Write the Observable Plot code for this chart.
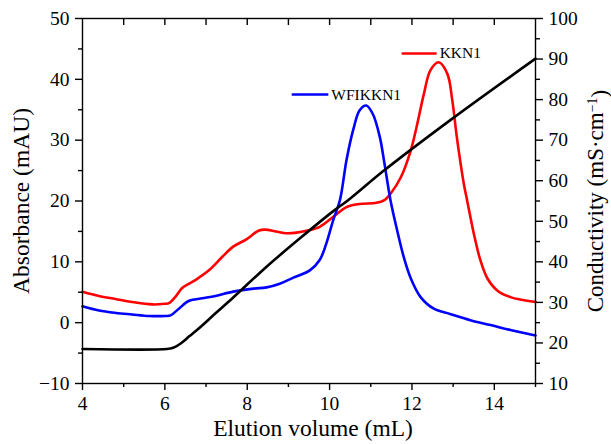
<!DOCTYPE html>
<html>
<head>
<meta charset="utf-8">
<script src="https://cdn.jsdelivr.net/npm/d3@7"></script>
<script src="https://cdn.jsdelivr.net/npm/@observablehq/plot@0.6"></script>
<style>
  html, body { margin: 0; padding: 0; background: #fff; }
  #chart svg { display: block; }
  #chart svg, #chart svg text, #chart svg tspan { font-family: "Liberation Serif", "Times New Roman", serif !important; }
</style>
</head>
<body>
<div id="chart"></div>
<script>
// ---- data ----
const kknVol = [4.0, 4.4, 4.8, 5.2, 5.7, 6.0, 6.1, 6.25, 6.42, 6.59, 6.74, 7.07, 7.39, 7.66, 7.98, 8.27, 8.43, 8.7, 8.95, 9.2, 9.44, 9.76, 10.09, 10.41, 10.73, 11.14, 11.32, 11.48, 11.73, 11.97, 12.13, 12.29, 12.45, 12.65, 12.86, 12.98, 13.09, 13.26, 13.34, 13.5, 13.66, 13.83, 14.07, 14.39, 15.0];
const kknAbs = [5.1, 4.4, 3.9, 3.4, 3.0, 3.1, 3.2, 4.2, 5.7, 6.4, 7.0, 8.6, 10.8, 12.5, 13.7, 15.1, 15.3, 15.0, 14.7, 14.8, 15.1, 15.75, 17.4, 19.0, 19.5, 19.7, 20.1, 21.2, 23.9, 28.3, 32.7, 37.6, 41.5, 42.8, 40.9, 36.5, 30.5, 22.8, 20.1, 14.7, 10.3, 7.3, 5.3, 4.2, 3.4];

const wfVol = [4.0, 4.4, 4.81, 5.2, 5.62, 6.0, 6.14, 6.34, 6.59, 6.91, 7.23, 7.66, 8.15, 8.47, 8.79, 9.12, 9.52, 9.76, 9.92, 10.09, 10.25, 10.41, 10.57, 10.73, 10.89, 11.05, 11.22, 11.32, 11.48, 11.64, 11.8, 11.97, 12.21, 12.53, 12.94, 13.42, 13.91, 14.39, 15.0];
const wfAbs = [2.7, 2.0, 1.6, 1.35, 1.1, 1.1, 1.2, 2.3, 3.6, 4.0, 4.4, 5.1, 5.6, 5.8, 6.4, 7.4, 8.6, 10.3, 13.0, 16.9, 20.1, 26.7, 31.6, 34.9, 35.7, 34.3, 30.5, 26.7, 20.1, 15.2, 10.8, 7.3, 4.2, 2.3, 1.4, 0.4, -0.4, -1.2, -2.1];

const condVol = [4.0, 6.05, 6.2, 6.4, 6.6, 6.83, 7.23, 7.66, 8.47, 9.28, 10.09, 10.45, 11.32, 12.94, 15.0];
const condVal = [18.5, 18.5, 18.8, 20.0, 21.7, 23.6, 27.3, 31.2, 38.8, 45.8, 52.5, 55.2, 62.5, 75.0, 90.1];

const xTicksMajor = [4, 6, 8, 10, 12, 14];
const xTicksMinor = [5, 7, 9, 11, 13, 15];
const xTicksTop = [5, 6, 7, 8, 9, 10, 11, 12, 13, 14];
const absTicksMajor = [-10, 0, 10, 20, 30, 40, 50];
const absTicksMinor = [-5, 5, 15, 25, 35, 45];
const condTicksMajor = [10, 20, 30, 40, 50, 60, 70, 80, 90, 100];
const condTicksMinor = [15, 25, 35, 45, 55, 65, 75, 85, 95];

const legendNames = ["WFIKKN1", "KKN1"];
const legendColors = ["#0000ff", "#ff0000"];
const legendX1 = [9.08, 11.75];
const legendX2 = [9.97, 12.6];
const legendY = [37.5, 44.25];

const xTitle = "Elution volume (mL)";
const yTitle = "Absorbance (mAU)";
const y2Title = "Conductivity (mS·cm-1)";

// ---- helpers ----
const absDomain = [-10, 50];
const condDomain = [10, 100];
const toA = c => absDomain[0] + (c - condDomain[0]) * (absDomain[1] - absDomain[0]) / (condDomain[1] - condDomain[0]);
const fromA = a => condDomain[0] + (a - absDomain[0]) * (condDomain[1] - condDomain[0]) / (absDomain[1] - absDomain[0]);

const kkn = kknVol.map((v, i) => ({v, a: kknAbs[i]}));
const wf = wfVol.map((v, i) => ({v, a: wfAbs[i]}));
const cond = condVol.map((v, i) => ({v, a: toA(condVal[i])}));
const legend = legendNames.map((n, i) => ({n, c: legendColors[i], x1: legendX1[i], x2: legendX2[i], y: legendY[i]}));

const FONT = "Liberation Serif, Times New Roman, serif";
const W = 611, H = 444, ML = 82, MR = 76, MT = 18, MB = 61;
const innerH = H - MT - MB;

const plot = Plot.plot({
  width: W, height: H,
  marginLeft: ML, marginRight: MR, marginTop: MT, marginBottom: MB,
  style: {fontFamily: FONT, fontSize: "19px", color: "#000", background: "#fff", overflow: "visible"},
  x: {domain: [4, 15], label: null},
  y: {domain: absDomain, label: null},
  marks: [
    Plot.line(kkn, {x: "v", y: "a", stroke: "#ff0000", strokeWidth: 2.6, curve: "catmull-rom"}),
    Plot.line(wf, {x: "v", y: "a", stroke: "#0000ff", strokeWidth: 2.6, curve: "catmull-rom"}),
    Plot.line(cond, {x: "v", y: "a", stroke: "#000", strokeWidth: 2.6, curve: "catmull-rom"}),
    // legend
    Plot.link(legend, {x1: "x1", x2: "x2", y1: "y", y2: "y", stroke: "c", strokeWidth: 2.6}),
    Plot.text(legend, {x: "x2", y: "y", text: "n", textAnchor: "start", dx: 3, fontSize: 15.5, fill: "#000"}),
    // frame
    Plot.frame({stroke: "#000", strokeWidth: 1.4}),
    // top inward ticks
    Plot.ruleX(xTicksTop, {x: d => d, insetBottom: innerH - 7, stroke: "#000", strokeWidth: 1.4}),
    // bottom axis
    Plot.axisX(xTicksMajor, {anchor: "bottom", tickSize: 7, tickPadding: 6, strokeWidth: 1.4, fontSize: 19.5, label: null}),
    Plot.axisX(xTicksMinor, {anchor: "bottom", tickSize: 4, strokeWidth: 1.4, tickFormat: () => "", label: null}),
    // left axis
    Plot.axisY(absTicksMajor, {anchor: "left", tickSize: 7, tickPadding: 6, strokeWidth: 1.4, fontSize: 19.5, label: null}),
    Plot.axisY(absTicksMinor, {anchor: "left", tickSize: 4, strokeWidth: 1.4, tickFormat: () => "", label: null}),
    // right axis (conductivity)
    Plot.axisY(condTicksMajor.map(toA), {anchor: "right", tickSize: 7, tickPadding: 6, strokeWidth: 1.4, fontSize: 19.5, tickFormat: a => String(Math.round(fromA(a))), label: null}),
    Plot.axisY(condTicksMinor.map(toA), {anchor: "right", tickSize: 4, strokeWidth: 1.4, tickFormat: () => "", label: null}),
    // axis titles
    Plot.text([yTitle], {frameAnchor: "left", text: d => d, rotate: -90, dx: -61.5, fontSize: 23.5, fill: "#000", textAnchor: "middle", lineAnchor: "middle"}),
    Plot.text([y2Title], {frameAnchor: "right", text: d => d, rotate: -90, dx: 60, fontSize: 23, fill: "#000", textAnchor: "middle", lineAnchor: "middle"}),
    Plot.text([xTitle], {frameAnchor: "bottom", text: d => d, dx: 4, dy: 44.5, fontSize: 23.5, fill: "#000", textAnchor: "middle", lineAnchor: "middle"})
  ]
});

// superscript on the conductivity unit
d3.select(plot).selectAll("text").filter(function() { return this.textContent === y2Title; })
  .each(function() {
    const t = d3.select(this);
    t.text("Conductivity (mS·cm");
    t.append("tspan").attr("dy", "-0.45em").attr("font-size", "14px").text("−1");
    t.append("tspan").attr("dy", "0.45em").text(")");
  });

document.getElementById("chart").appendChild(plot);
</script>
</body>
</html>
